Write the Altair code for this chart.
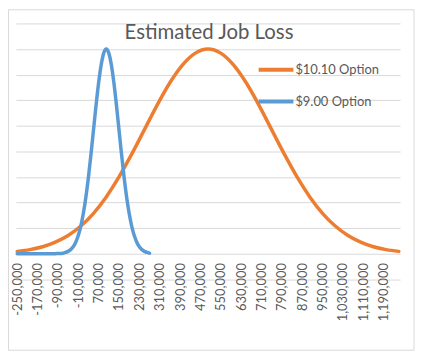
import altair as alt
import pandas as pd

# $10.10 Option (orange)
x_1010 = [-250000, -200000, -150000, -100000, -50000, 0, 50000, 100000, 150000, 200000,
          250000, 300000, 350000, 400000, 450000, 500000, 550000, 600000, 650000, 700000,
          750000, 800000, 850000, 900000, 950000, 1000000, 1050000, 1100000, 1150000,
          1200000, 1250000]
y_1010 = [0.09, 0.16, 0.27, 0.45, 0.71, 1.08, 1.58, 2.22, 3.0, 3.89,
          4.85, 5.81, 6.68, 7.38, 7.84, 8.0, 7.84, 7.38, 6.68, 5.81,
          4.85, 3.89, 3.0, 2.22, 1.58, 1.08, 0.71, 0.45, 0.27,
          0.16, 0.09]

# $9.00 Option (blue)
x_900 = [-250000, -200000, -150000, -100000, -90000, -80000, -70000, -60000, -50000,
         -40000, -30000, -20000, -10000, 0, 10000, 20000, 30000, 40000, 50000, 60000,
         70000, 80000, 90000, 100000, 110000, 120000, 130000, 140000, 150000, 160000,
         170000, 180000, 190000, 200000, 210000, 220000, 230000, 240000, 250000,
         260000, 270000]
y_900 = [0.0, 0.0, 0.0, 0.0, 0.01, 0.01, 0.02, 0.05, 0.09,
         0.16, 0.27, 0.45, 0.71, 1.08, 1.58, 2.22, 3.0, 3.89, 4.85, 5.81,
         6.68, 7.38, 7.84, 8.0, 7.84, 7.38, 6.68, 5.81, 4.85, 3.89,
         3.0, 2.22, 1.58, 1.08, 0.71, 0.45, 0.27, 0.16, 0.09,
         0.05, 0.02]

series_names = ["$10.10 Option", "$9.00 Option"]
series_colors = ["#ED7D31", "#5B9BD5"]
chart_title = "Estimated Job Loss"

tick_values = [-250000, -170000, -90000, -10000, 70000, 150000, 230000, 310000,
               390000, 470000, 550000, 630000, 710000, 790000, 870000, 950000,
               1030000, 1110000, 1190000]
grid_values = [-1, 0, 1, 2, 3, 4, 5, 6, 7, 8, 9]

df = pd.concat([
    pd.DataFrame({"jobs": x_1010, "value": y_1010, "series": series_names[0]}),
    pd.DataFrame({"jobs": x_900, "value": y_900, "series": series_names[1]}),
], ignore_index=True)

x_scale = alt.Scale(domain=[-255000, 1255000], nice=False, zero=False)
y_scale = alt.Scale(domain=[-1, 9], nice=False, zero=False)

lines = alt.Chart(df).mark_line(
    strokeWidth=3.5, interpolate="monotone", strokeCap="round", strokeJoin="round"
).encode(
    x=alt.X("jobs:Q", scale=x_scale, axis=alt.Axis(
        values=tick_values,
        labelExpr="replace(format(datum.value, ',.0f'), '\u2212', '-')",
        labelAngle=270, labelFont="Lato",
        labelFontSize=13, labelColor="#595959", labelPadding=9, offset=-25.77,
        ticks=False, tickSize=0, domain=False, grid=False, labelOverlap=False,
        labelBound=False, labelFlush=False, title=None)),
    y=alt.Y("value:Q", scale=y_scale, axis=alt.Axis(
        values=grid_values, labels=False, ticks=False, domain=False, grid=True,
        gridColor="#D9D9D9", gridWidth=1, title=None)),
    color=alt.Color("series:N", sort=series_names,
                    scale=alt.Scale(domain=series_names, range=series_colors),
                    legend=alt.Legend(title=None, orient="none", legendX=242.5, legendY=30.85,
                                      symbolType="stroke", symbolSize=1225,
                                      symbolStrokeWidth=4, labelFont="Lato",
                                      labelFontSize=13, labelColor="#595959",
                                      labelOffset=0, rowPadding=0, clipHeight=31.7,
                                      padding=0, direction="vertical")),
)

border = alt.Chart(pd.DataFrame({"k": [0]})).mark_rect(
    fillOpacity=0, stroke="#D9D9D9", strokeWidth=1
).encode(
    x=alt.value(-7.5), x2=alt.value(401), y=alt.value(-13.8), y2=alt.value(329.2)
)

title = alt.Chart(pd.DataFrame({"t": [chart_title]})).mark_text(
    font="Lato", fontSize=20.5, color="#595959", align="center", baseline="alphabetic"
).encode(
    text="t:N", x=alt.value(194.5), y=alt.value(16)
)

chart = alt.layer(border, lines, title).properties(
    width=387,
    height=257.7,
    padding={"left": 8, "top": 14.3, "right": 15, "bottom": 72},
    autosize=alt.AutoSizeParams(type="none"),
    background="white",
).configure_view(strokeWidth=0)

chart.save("out.html", embed_options={"renderer": "svg", "actions": False})
